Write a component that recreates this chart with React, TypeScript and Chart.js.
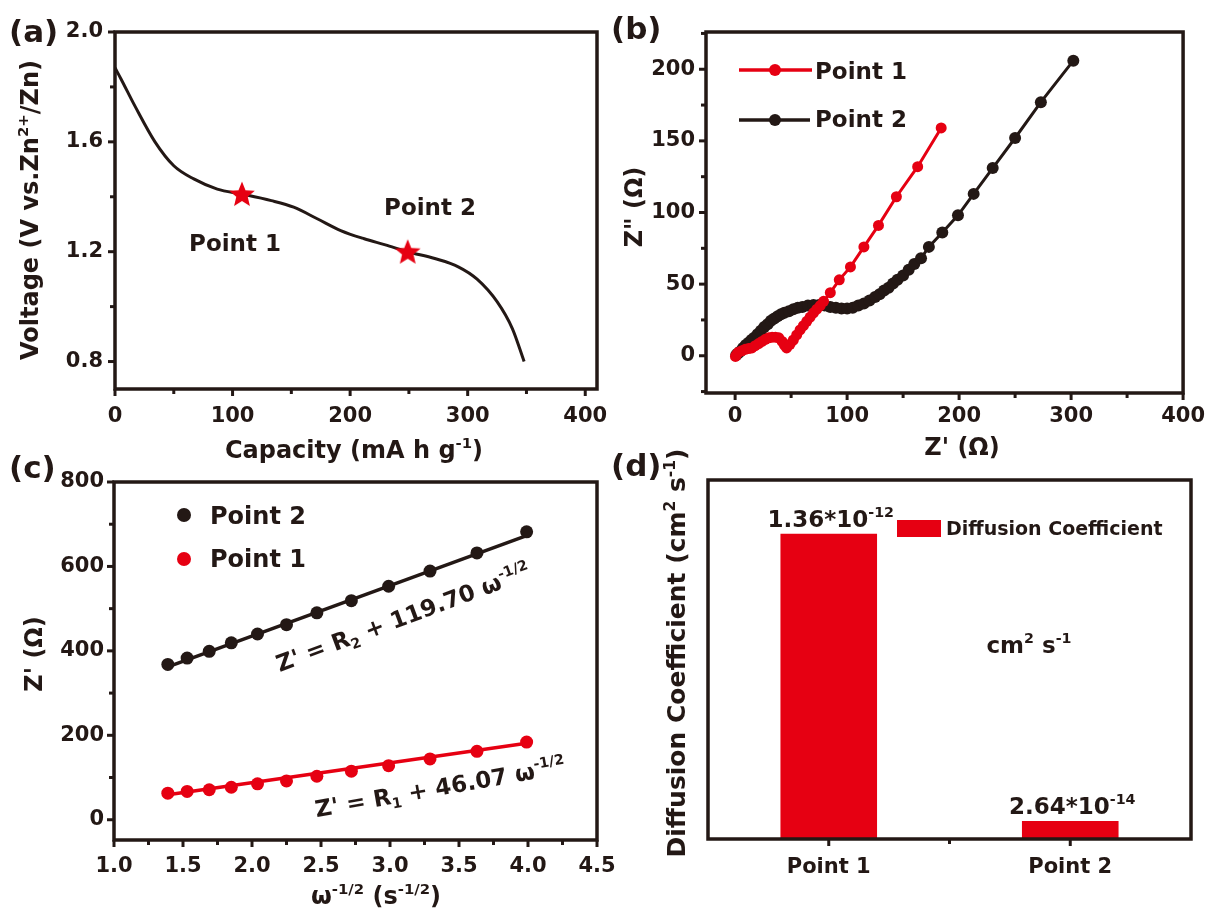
import React, { useEffect, useRef } from 'react';
import { Chart, registerables } from 'chart.js';

Chart.register(...registerables);

const INK = '#231815';
const RED = '#e60012';
const FAMILY = '"DejaVu Sans", "Liberation Sans", sans-serif';

// ---------- (a) discharge curve ----------
const A_CAPACITY = [0, 5, 17, 34, 50, 67, 87, 108, 133, 152, 172, 192, 212, 230, 249, 272, 292, 308, 325, 338, 348];
const A_VOLTAGE = [1.87, 1.83, 1.73, 1.6, 1.513, 1.465, 1.428, 1.41, 1.386, 1.362, 1.32, 1.277, 1.247, 1.225, 1.2, 1.175, 1.145, 1.1, 1.018, 0.92, 0.8];
const A_STAR_CAPACITY = [108, 249];
const A_STAR_VOLTAGE = [1.41, 1.2];

// ---------- (b) Nyquist plots ----------
const B_P1_X = [0.3, 1.5, 3, 6, 9, 12, 15, 18, 21, 24, 27, 30, 33, 36, 39, 42, 44, 46, 49, 52, 55, 58, 61, 64, 67, 70, 73, 76, 79, 85, 93, 103, 115, 128, 144, 163, 184];
const B_P1_Y = [-0.5, 1, 2.5, 3.5, 4.5, 5, 5.5, 7, 8.5, 10, 11.5, 12.5, 13, 13, 12.5, 10, 7.5, 5.5, 8, 11, 14.5, 18, 21, 24, 27, 30, 32.5, 35, 38, 44, 53, 62, 76, 91, 111, 132, 159];
const B_P2_X = [1, 2.5, 4.5, 7, 9.5, 12, 14.5, 17, 20, 23, 26, 29, 32, 35, 38, 41, 44, 48, 52, 56, 60, 65, 70, 75, 80, 85, 90, 95, 100, 105, 110, 115, 120, 125, 129, 133, 137, 141, 145, 150, 155, 160, 166, 173, 185, 199, 213, 230, 250, 273, 302];
const B_P2_Y = [0.5, 1.5, 3, 5.5, 7.5, 9, 11, 12.5, 15, 17.5, 20, 22, 24.5, 26, 27.5, 29, 30, 31, 32.5, 33.5, 34, 35, 35.5, 35.5, 35, 34, 33.5, 33, 33, 33.5, 35, 36.5, 38.5, 41, 43, 45.5, 47.5, 50.5, 53, 56, 60, 64, 68, 76, 86, 98, 113, 131, 152, 177, 206];

// ---------- (c) Z' vs w^-1/2 ----------
const C_X = [1.39, 1.53, 1.69, 1.85, 2.04, 2.25, 2.47, 2.72, 2.99, 3.29, 3.63, 3.99];
const C_P2 = [368, 383, 399, 419, 440, 462, 490, 519, 553, 589, 632, 682];
const C_P1 = [63, 67, 71, 77, 85, 92, 103, 115, 128, 144, 162, 184];
const C_FIT_X = [1.39, 3.99];
const C_FIT2 = [362, 673];
const C_FIT1 = [59, 181];

// ---------- (d) diffusion coefficient ----------
const D_LABELS = ['Point 1', 'Point 2'];
const D_VALUES = [1.36, 0.08];
const D_MANTISSA = ['1.36*10', '2.64*10'];
const D_EXPONENT = ['-12', '-14'];

type Seg = { t: string; k?: 'sup' | 'sub' };

const pts = (xs: number[], ys: number[]) => xs.map((x, i) => ({ x, y: ys[i] }));
const isMult = (v: number, step: number) => Math.abs(v / step - Math.round(v / step)) < 1e-6;
const fontStr = (s: number) => `bold ${s}px ${FAMILY}`;

function drawRich(
  ctx: CanvasRenderingContext2D,
  segs: Seg[],
  x: number,
  y: number,
  size: number,
  opt: { align?: 'left' | 'center'; rot?: number; color?: string; baseline?: 'middle' | 'alphabetic' } = {}
) {
  const align = opt.align || 'center';
  ctx.save();
  ctx.translate(x, y);
  if (opt.rot) ctx.rotate((opt.rot * Math.PI) / 180);
  ctx.fillStyle = opt.color || INK;
  ctx.textBaseline = 'alphabetic';
  ctx.textAlign = 'left';
  const widths = segs.map((s) => {
    ctx.font = fontStr(s.k ? size * 0.62 : size);
    return ctx.measureText(s.t).width;
  });
  const total = widths.reduce((a, b) => a + b, 0);
  let cx = align === 'center' ? -total / 2 : 0;
  const base = (opt.baseline || 'middle') === 'middle' ? size * 0.36 : 0;
  segs.forEach((s, i) => {
    ctx.font = fontStr(s.k ? size * 0.62 : size);
    const dy = s.k === 'sup' ? -size * 0.42 : s.k === 'sub' ? size * 0.2 : 0;
    ctx.fillText(s.t, cx, base + dy);
    cx += widths[i];
  });
  ctx.restore();
}

function frameAndTicks(chart: any, spec: { x: 'linear' | 'category'; y: boolean }) {
  const { ctx, chartArea: a } = chart;
  ctx.save();
  ctx.strokeStyle = INK;
  ctx.lineWidth = 3;
  const seg = (x1: number, y1: number, x2: number, y2: number) => {
    ctx.beginPath();
    ctx.moveTo(x1, y1);
    ctx.lineTo(x2, y2);
    ctx.stroke();
  };
  const xs = chart.scales.x;
  if (spec.x === 'linear') {
    xs.ticks.forEach((t: any) => {
      const p = xs.getPixelForValue(t.value);
      seg(p, a.bottom, p, a.bottom + (t.label ? 7 : 5));
    });
  } else {
    for (let i = 0; i < D_LABELS.length; i++) {
      const p = xs.getPixelForValue(i);
      seg(p, a.bottom, p, a.bottom + 7);
      if (i < D_LABELS.length - 1) {
        const m = (p + xs.getPixelForValue(i + 1)) / 2;
        seg(m, a.bottom, m, a.bottom + 5);
      }
    }
  }
  if (spec.y) {
    const ys = chart.scales.y;
    ys.ticks.forEach((t: any) => {
      const p = ys.getPixelForValue(t.value);
      seg(a.left, p, a.left - (t.label ? 7 : 5), p);
    });
  }
  ctx.lineWidth = 3.5;
  ctx.strokeRect(a.left, a.top, a.right - a.left, a.bottom - a.top);
  ctx.restore();
}

function decor(ox: number, oy: number, spec: { x: 'linear' | 'category'; y: boolean }, draw: (ctx: CanvasRenderingContext2D, chart: any) => void) {
  return {
    id: 'decor',
    afterDraw(chart: any) {
      frameAndTicks(chart, spec);
      const ctx = chart.ctx as CanvasRenderingContext2D;
      ctx.save();
      ctx.translate(-ox, -oy);
      draw(ctx, chart);
      ctx.restore();
    },
  };
}

const TICK_FONT = { family: FAMILY, size: 21, weight: 'bold' as const };
const TITLE = 24;

function linTicks(step: number, major: number, fmt: (v: number) => string, padding: number) {
  return {
    stepSize: step,
    includeBounds: false,
    autoSkip: false,
    maxRotation: 0,
    minRotation: 0,
    padding,
    color: INK,
    font: TICK_FONT,
    callback: (v: any) => (isMult(Number(v), major) ? fmt(Number(v)) : ''),
  };
}

const noGrid = { display: false, drawTicks: false };
const noBorder = { display: false };

function baseOptions(padding: any) {
  return {
    responsive: false,
    animation: false as const,
    devicePixelRatio: 1,
    layout: { padding },
    plugins: { legend: { display: false }, tooltip: { enabled: false } },
  };
}

function makeStar(): HTMLCanvasElement {
  const c = document.createElement('canvas');
  c.width = 30;
  c.height = 30;
  const g = c.getContext('2d')!;
  g.fillStyle = RED;
  g.beginPath();
  for (let i = 0; i < 10; i++) {
    const r = i % 2 === 0 ? 13.5 : 6;
    const ang = -Math.PI / 2 + (i * Math.PI) / 5;
    const px = 15 + r * Math.cos(ang);
    const py = 16 + r * Math.sin(ang);
    if (i === 0) g.moveTo(px, py);
    else g.lineTo(px, py);
  }
  g.closePath();
  g.fill();
  return c;
}

// canvas placements on the page
const A_BOX = { left: 0, top: 0, w: 640, h: 478 };
const B_BOX = { left: 600, top: 0, w: 616, h: 478 };
const C_BOX = { left: 0, top: 440, w: 640, h: 471 };
const D_BOX = { left: 600, top: 440, w: 616, h: 471 };

function configA(star: HTMLCanvasElement): any {
  return {
    type: 'scatter',
    data: {
      datasets: [
        { data: pts(A_STAR_CAPACITY, A_STAR_VOLTAGE), pointStyle: star, pointRadius: 14, showLine: false },
        {
          data: pts(A_CAPACITY, A_VOLTAGE),
          showLine: true,
          borderColor: INK,
          borderWidth: 3,
          pointRadius: 0,
          cubicInterpolationMode: 'monotone',
        },
      ],
    },
    options: {
      ...baseOptions({ left: 0, top: 32, right: 43, bottom: 0 }),
      scales: {
        x: {
          type: 'linear', min: 0, max: 410, grid: noGrid, border: noBorder,
          ticks: linTicks(50, 100, (v) => String(Math.round(v)), 15),
          afterFit: (s: any) => { s.height = 89; },
        },
        y: {
          type: 'linear', min: 0.7, max: 2.0, grid: noGrid, border: noBorder,
          ticks: linTicks(0.2, 0.4, (v) => v.toFixed(1), 12),
          afterFit: (s: any) => { s.width = 115; },
        },
      },
    },
    plugins: [
      decor(A_BOX.left, A_BOX.top, { x: 'linear', y: true }, (ctx) => {
        drawRich(ctx, [{ t: '(a)' }], 9, 31, 31, { align: 'left' });
        drawRich(ctx, [{ t: 'Voltage (V vs.Zn' }, { t: '2+', k: 'sup' }, { t: '/Zn)' }], 29, 210, TITLE, { rot: -90 });
        drawRich(ctx, [{ t: 'Capacity (mA h g' }, { t: '-1', k: 'sup' }, { t: ')' }], 354, 449, TITLE);
        drawRich(ctx, [{ t: 'Point 1' }], 235, 243, 23);
        drawRich(ctx, [{ t: 'Point 2' }], 430, 207, 23);
      }),
    ],
  };
}

function configB(): any {
  return {
    type: 'scatter',
    data: {
      datasets: [
        {
          data: pts(B_P1_X, B_P1_Y), showLine: true, borderColor: RED, borderWidth: 3,
          pointRadius: 5.5, pointBackgroundColor: RED, pointBorderColor: RED, pointBorderWidth: 0,
        },
        {
          data: pts(B_P2_X, B_P2_Y), showLine: true, borderColor: INK, borderWidth: 3,
          pointRadius: 6, pointBackgroundColor: INK, pointBorderColor: INK, pointBorderWidth: 0,
        },
      ],
    },
    options: {
      ...baseOptions({ left: 0, top: 32, right: 23.5, bottom: 0 }),
      scales: {
        x: {
          type: 'linear', min: -26, max: 400, grid: noGrid, border: noBorder,
          ticks: linTicks(50, 100, (v) => String(Math.round(v)), 11),
          afterFit: (s: any) => { s.height = 85; },
        },
        y: {
          type: 'linear', min: -26, max: 226, grid: noGrid, border: noBorder,
          ticks: linTicks(25, 50, (v) => String(Math.round(v)), 11),
          afterFit: (s: any) => { s.width = 106; },
        },
      },
    },
    plugins: [
      decor(B_BOX.left, B_BOX.top, { x: 'linear', y: true }, (ctx) => {
        drawRich(ctx, [{ t: '(b)' }], 611, 28, 31, { align: 'left' });
        drawRich(ctx, [{ t: 'Z" (Ω)' }], 633, 207, TITLE, { rot: -90 });
        drawRich(ctx, [{ t: "Z' (Ω)" }], 962, 446, TITLE);
        // legend
        const items = [
          { c: RED, y: 70, ty: 71, label: 'Point 1', x2: 812 },
          { c: INK, y: 120, ty: 119, label: 'Point 2', x2: 810 },
        ];
        items.forEach((it) => {
          ctx.save();
          ctx.strokeStyle = it.c;
          ctx.lineWidth = 3.5;
          ctx.beginPath();
          ctx.moveTo(739, it.y);
          ctx.lineTo(it.x2, it.y);
          ctx.stroke();
          ctx.fillStyle = it.c;
          ctx.beginPath();
          ctx.arc(775, it.y, 6, 0, Math.PI * 2);
          ctx.fill();
          ctx.restore();
          drawRich(ctx, [{ t: it.label }], 815, it.ty, 23, { align: 'left' });
        });
      }),
    ],
  };
}

function configC(): any {
  return {
    type: 'scatter',
    data: {
      datasets: [
        { data: pts(C_X, C_P2), showLine: false, pointRadius: 6.5, pointBackgroundColor: INK, pointBorderColor: INK, pointBorderWidth: 0 },
        { data: pts(C_X, C_P1), showLine: false, pointRadius: 6.5, pointBackgroundColor: RED, pointBorderColor: RED, pointBorderWidth: 0 },
        { data: pts(C_FIT_X, C_FIT2), showLine: true, borderColor: INK, borderWidth: 3.5, pointRadius: 0 },
        { data: pts(C_FIT_X, C_FIT1), showLine: true, borderColor: RED, borderWidth: 3.5, pointRadius: 0 },
      ],
    },
    options: {
      ...baseOptions({ left: 0, top: 42, right: 43, bottom: 0 }),
      scales: {
        x: {
          type: 'linear', min: 1.0, max: 4.5, grid: noGrid, border: noBorder,
          ticks: linTicks(0.25, 0.5, (v) => v.toFixed(1), 14),
          afterFit: (s: any) => { s.height = 71; },
        },
        y: {
          type: 'linear', min: -48, max: 800, grid: noGrid, border: noBorder,
          ticks: linTicks(100, 200, (v) => String(Math.round(v)), 10),
          afterFit: (s: any) => { s.width = 114; },
        },
      },
    },
    plugins: [
      decor(C_BOX.left, C_BOX.top, { x: 'linear', y: true }, (ctx) => {
        drawRich(ctx, [{ t: '(c)' }], 9, 467, 31, { align: 'left' });
        drawRich(ctx, [{ t: "Z' (Ω)" }], 33, 654, TITLE, { rot: -90 });
        drawRich(ctx, [{ t: 'ω' }, { t: '-1/2', k: 'sup' }, { t: ' (s' }, { t: '-1/2', k: 'sup' }, { t: ')' }], 376, 895, TITLE);
        // legend
        ctx.save();
        ctx.fillStyle = INK;
        ctx.beginPath();
        ctx.arc(184, 515, 7, 0, Math.PI * 2);
        ctx.fill();
        ctx.fillStyle = RED;
        ctx.beginPath();
        ctx.arc(184, 559, 7, 0, Math.PI * 2);
        ctx.fill();
        ctx.restore();
        drawRich(ctx, [{ t: 'Point 2' }], 210, 515, 24, { align: 'left' });
        drawRich(ctx, [{ t: 'Point 1' }], 210, 558, 24, { align: 'left' });
        // equations
        drawRich(ctx, [{ t: "Z' = R" }, { t: '2', k: 'sub' }, { t: ' + 119.70 ω' }, { t: '-1/2', k: 'sup' }], 403, 617, 23, { rot: -20.5 });
        drawRich(ctx, [{ t: "Z' = R" }, { t: '1', k: 'sub' }, { t: ' + 46.07 ω' }, { t: '-1/2', k: 'sup' }], 440, 787, 23, { rot: -10 });
      }),
    ],
  };
}

function configD(): any {
  return {
    type: 'bar',
    data: {
      labels: D_LABELS,
      datasets: [{ data: D_VALUES, backgroundColor: RED, borderWidth: 0, barPercentage: 0.8, categoryPercentage: 0.5 }],
    },
    options: {
      ...baseOptions({ left: 108, top: 40, right: 25, bottom: 0 }),
      scales: {
        x: {
          grid: noGrid, border: noBorder,
          ticks: { padding: 16, color: INK, font: TICK_FONT, maxRotation: 0, minRotation: 0 },
          afterFit: (s: any) => { s.height = 72; },
        },
        y: { display: false, min: 0, max: 1.6 },
      },
    },
    plugins: [
      decor(D_BOX.left, D_BOX.top, { x: 'category', y: false }, (ctx, chart) => {
        drawRich(ctx, [{ t: '(d)' }], 611, 465, 31, { align: 'left' });
        drawRich(ctx, [{ t: 'Diffusion Coefficient (cm' }, { t: '2', k: 'sup' }, { t: ' s' }, { t: '-1', k: 'sup' }, { t: ')' }], 676, 653, 25, { rot: -90 });
        const xs = chart.scales.x;
        const ys = chart.scales.y;
        D_VALUES.forEach((v, i) => {
          const px = xs.getPixelForValue(i) + D_BOX.left;
          const py = ys.getPixelForValue(v) + D_BOX.top;
          drawRich(ctx, [{ t: D_MANTISSA[i] }, { t: D_EXPONENT[i], k: 'sup' }], px + 2, py - 7, 23, { baseline: 'alphabetic' });
        });
        drawRich(ctx, [{ t: 'cm' }, { t: '2', k: 'sup' }, { t: ' s' }, { t: '-1', k: 'sup' }], 1029, 653, 23, { baseline: 'alphabetic' });
        // legend
        ctx.save();
        ctx.fillStyle = RED;
        ctx.fillRect(897, 520, 44, 17);
        ctx.restore();
        drawRich(ctx, [{ t: 'Diffusion Coefficient' }], 946, 528, 19, { align: 'left' });
      }),
    ],
  };
}

export default function App() {
  const aRef = useRef<HTMLCanvasElement>(null);
  const bRef = useRef<HTMLCanvasElement>(null);
  const cRef = useRef<HTMLCanvasElement>(null);
  const dRef = useRef<HTMLCanvasElement>(null);

  useEffect(() => {
    const star = makeStar();
    const charts = [
      new Chart(aRef.current!, configA(star)),
      new Chart(bRef.current!, configB()),
      new Chart(cRef.current!, configC()),
      new Chart(dRef.current!, configD()),
    ];
    return () => charts.forEach((c) => c.destroy());
  }, []);

  const style = (b: { left: number; top: number; w: number; h: number }): React.CSSProperties => ({
    position: 'absolute',
    left: b.left,
    top: b.top,
    width: b.w,
    height: b.h,
  });

  return (
    <div style={{ position: 'absolute', left: 0, top: 0, width: 1216, height: 911, background: '#ffffff', overflow: 'hidden' }}>
      <canvas ref={aRef} width={A_BOX.w} height={A_BOX.h} style={style(A_BOX)} />
      <canvas ref={bRef} width={B_BOX.w} height={B_BOX.h} style={style(B_BOX)} />
      <canvas ref={cRef} width={C_BOX.w} height={C_BOX.h} style={style(C_BOX)} />
      <canvas ref={dRef} width={D_BOX.w} height={D_BOX.h} style={style(D_BOX)} />
    </div>
  );
}
